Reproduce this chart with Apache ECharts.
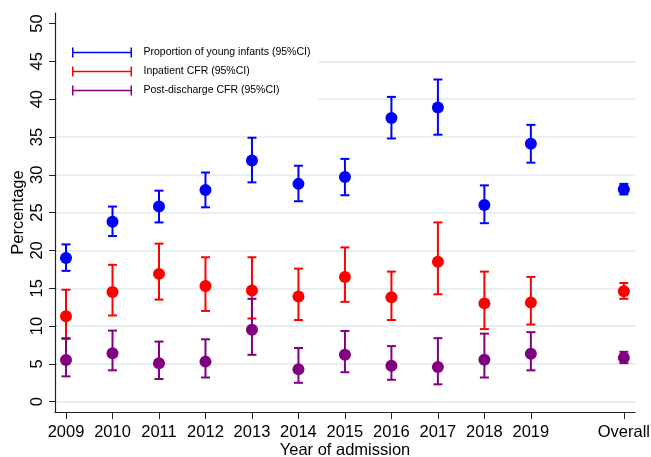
<!DOCTYPE html>
<html>
<head>
<meta charset="utf-8">
<script src="https://cdn.jsdelivr.net/npm/echarts@6/dist/echarts.min.js"></script>
<style>
  html, body { margin: 0; padding: 0; background: #fff; }
  #chart { width: 651px; height: 457px; }
</style>
</head>
<body>
<div id="chart"></div>
<script>
// '' is the empty slot between 2019 and Overall
var categories = ['2009', '2010', '2011', '2012', '2013', '2014', '2015', '2016', '2017', '2018', '2019', '', 'Overall'];

var youngVal = [19.0, 23.8, 25.8, 28.0, 31.9, 28.8, 29.7, 37.5, 38.9, 26.0, 34.1, null, 28.1];
var youngLow = [17.3, 21.9, 23.7, 25.7, 29.0, 26.5, 27.3, 34.8, 35.3, 23.6, 31.6, null, 27.4];
var youngHigh = [20.8, 25.8, 27.9, 30.3, 34.9, 31.2, 32.1, 40.3, 42.6, 28.6, 36.6, null, 28.8];

var inpatVal = [11.3, 14.5, 16.9, 15.3, 14.7, 13.9, 16.5, 13.8, 18.5, 13.0, 13.1, null, 14.6];
var inpatLow = [8.3, 11.4, 13.5, 12.0, 11.0, 10.8, 13.2, 10.8, 14.2, 9.6, 10.2, null, 13.6];
var inpatHigh = [14.8, 18.1, 20.9, 19.1, 19.1, 17.6, 20.4, 17.2, 23.7, 17.2, 16.5, null, 15.7];

var postVal = [5.5, 6.4, 5.1, 5.3, 9.5, 4.3, 6.2, 4.75, 4.6, 5.55, 6.35, null, 5.8];
var postLow = [3.35, 4.15, 3.0, 3.2, 6.2, 2.5, 3.9, 2.9, 2.3, 3.2, 4.15, null, 5.1];
var postHigh = [8.4, 9.4, 7.95, 8.25, 13.6, 7.1, 9.35, 7.35, 8.4, 9.0, 9.2, null, 6.6];

var yTicks = [0, 5, 10, 15, 20, 25, 30, 35, 40, 45, 50];

var chart = echarts.init(document.getElementById('chart'));

var font = 'Liberation Sans, Arial, sans-serif';
var barIcon = 'path://M0,0h1.5v10h-1.5z M0,4.3h60v1.4h-60z M58.5,0h1.5v10h-1.5z';

function points(vals) {
    var out = [];
    for (var i = 0; i < vals.length; i++) {
        if (vals[i] != null) out.push([i, vals[i]]);
    }
    return out;
}

function bars(low, high) {
    var out = [];
    for (var i = 0; i < low.length; i++) {
        if (low[i] != null) out.push([i, low[i], high[i]]);
    }
    return out;
}

function renderBar(params, api) {
    var lo = api.coord([api.value(0), api.value(1)]);
    var hi = api.coord([api.value(0), api.value(2)]);
    var half = 4.5;
    var style = { stroke: api.visual('color'), lineWidth: 2 };
    return {
        type: 'group',
        children: [
            { type: 'line', shape: { x1: lo[0], y1: lo[1], x2: hi[0], y2: hi[1] }, style: style },
            { type: 'line', shape: { x1: lo[0] - half, y1: lo[1], x2: lo[0] + half, y2: lo[1] }, style: style },
            { type: 'line', shape: { x1: hi[0] - half, y1: hi[1], x2: hi[0] + half, y2: hi[1] }, style: style }
        ]
    };
}

var groups = [
    { name: 'Proportion of young infants (95%CI)', color: '#0000ff', val: youngVal, low: youngLow, high: youngHigh },
    { name: 'Inpatient CFR (95%CI)', color: '#ff0000', val: inpatVal, low: inpatLow, high: inpatHigh },
    { name: 'Post-discharge CFR (95%CI)', color: '#800080', val: postVal, low: postLow, high: postHigh }
];

var series = [];
groups.forEach(function (g) {
    series.push({
        name: g.name,
        type: 'custom',
        renderItem: renderBar,
        itemStyle: { color: g.color },
        data: bars(g.low, g.high),
        z: 2
    });
    series.push({
        name: g.name + ' point',
        type: 'scatter',
        symbol: 'circle',
        symbolSize: 12,
        itemStyle: { color: g.color, opacity: 1 },
        data: points(g.val),
        z: 3
    });
});

var tickX = [];
categories.forEach(function (c, i) { if (c !== '') tickX.push(i); });

var option = {
    animation: false,
    backgroundColor: '#fff',
    grid: { left: 55, right: 16, top: 13, bottom: 45, outerBoundsMode: 'none', containLabel: false },
    legend: {
        orient: 'vertical',
        left: 58,
        top: 40,
        padding: [7, 8, 7, 14],
        backgroundColor: '#fff',
        itemWidth: 63,
        itemHeight: 10,
        itemGap: 8,
        selectedMode: false,
        textStyle: { fontFamily: font, fontSize: 10.5, color: '#000', padding: [0, 0, 0, 5] },
        data: groups.map(function (g) { return { name: g.name, icon: barIcon }; })
    },
    xAxis: {
        type: 'value',
        min: -0.237,
        max: 12.24,
        name: 'Year of admission',
        nameLocation: 'middle',
        nameMoveOverlap: false,
        nameGap: 30,
        nameTextStyle: { fontFamily: font, fontSize: 16.5, color: '#000' },
        axisLine: { show: true, onZero: false, lineStyle: { color: '#222', width: 1.2 } },
        axisTick: { show: true, length: 7, customValues: tickX, lineStyle: { color: '#222' } },
        axisLabel: {
            customValues: tickX,
            margin: 12,
            fontFamily: font, fontSize: 16.5, color: '#000',
            formatter: function (v) { return categories[Math.round(v)]; }
        },
        splitLine: { show: false }
    },
    yAxis: {
        type: 'value',
        min: -1.36,
        max: 51.39,
        name: 'Percentage',
        nameLocation: 'middle',
        nameMoveOverlap: false,
        nameGap: 28,
        nameTextStyle: { fontFamily: font, fontSize: 16.5, color: '#000' },
        axisLine: { show: true, onZero: false, lineStyle: { color: '#222', width: 1.2 } },
        axisTick: { show: true, length: 6, customValues: yTicks, lineStyle: { color: '#222' } },
        axisLabel: {
            customValues: yTicks,
            rotate: 90,
            margin: 9,
            fontFamily: font, fontSize: 16.5, color: '#000'
        },
        splitLine: {
            show: true,
            lineStyle: {
                width: 2,
                color: ['#e8eff2', '#e8eff2', '#e8eff2', '#e8eff2', '#e8eff2', '#e8eff2',
                        '#e8eff2', '#e8eff2', '#e8eff2', '#e8eff2', 'rgba(0,0,0,0)']
            }
        }
    },
    series: series
};

chart.setOption(option);
</script>
</body>
</html>
